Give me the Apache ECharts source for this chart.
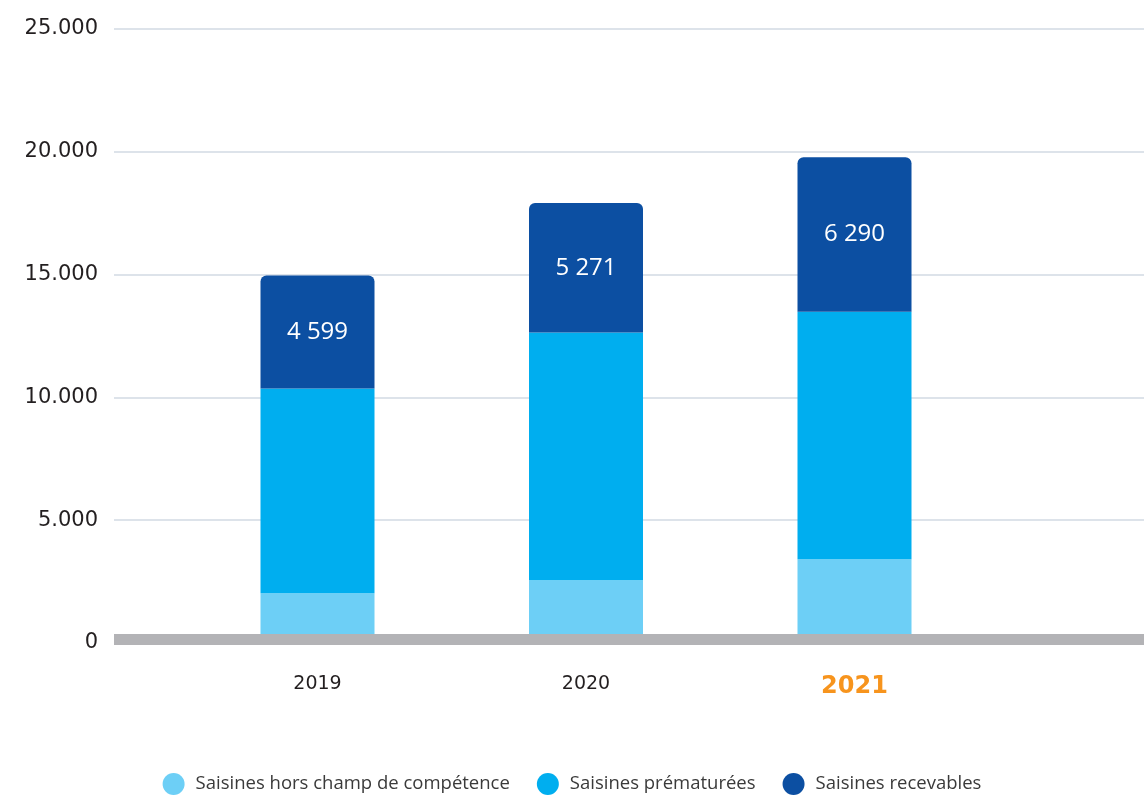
<!DOCTYPE html>
<html>
<head>
<meta charset="utf-8">
<style>
  html, body { margin: 0; padding: 0; background: #ffffff; }
  #chart { width: 1144px; height: 795px; }
</style>
<script src="https://cdn.jsdelivr.net/npm/echarts@6/dist/echarts.min.js"></script>
</head>
<body>
<div id="chart"></div>
<script>
// Saisines par année
const years = ['2019', '2020', '2021'];
const horsChamp = [2030, 2560, 3410];      // Saisines hors champ de compétence
const prematurees = [8330, 10080, 10080];  // Saisines prématurées
const recevables = [4599, 5271, 6290];     // Saisines recevables
const seriesNames = ['Saisines hors champ de compétence', 'Saisines prématurées', 'Saisines recevables'];
const highlightYear = '2021';
const yMax = 25000;
const yStep = 5000;

const colors = ['#6dcff6', '#00aeef', '#0c4fa2'];
const spaced = n => String(n).replace(/\B(?=(\d{3})+(?!\d))/g, ' ');

const plotTop = 29;
const plotBottom = 152;

const chart = echarts.init(document.getElementById('chart'));
chart.setOption({
  animation: false,
  color: colors,
  grid: [
    // full-width frame: value gridlines and the baseline
    { left: 114, right: 0, top: plotTop, bottom: plotBottom, outerBoundsMode: 'none' },
    // bar area: one band per year
    { left: 183.25, right: 155.25, top: plotTop, bottom: plotBottom, outerBoundsMode: 'none' }
  ],
  legend: {
    data: seriesNames,
    left: 'center',
    top: 768,
    icon: 'circle',
    itemWidth: 22,
    itemHeight: 22,
    itemGap: 27,
    textStyle: { fontFamily: 'Open Sans', fontSize: 18.5, color: '#3a3a3a', padding: [0, 0, 0, 6] }
  },
  xAxis: [
    {
      gridIndex: 0,
      type: 'value',
      min: 0,
      max: 1,
      z: 10,
      offset: -3.5,
      axisLine: { onZero: false, show: true, lineStyle: { color: '#b3b3b6', width: 11, cap: 'butt' } },
      axisTick: { show: false },
      splitLine: { show: false },
      axisLabel: { show: false }
    },
    {
      gridIndex: 1,
      type: 'category',
      data: years,
      axisLine: { show: false },
      axisTick: { show: false },
      axisLabel: {
        margin: 32,
        formatter: y => y === highlightYear ? '{hi|' + y + '}' : y,
        fontFamily: 'DejaVu Sans',
        fontSize: 19,
        color: '#231f20',
        rich: {
          hi: { fontFamily: 'DejaVu Sans', fontSize: 24, fontWeight: 'bold', color: '#f7941d' }
        }
      }
    }
  ],
  yAxis: [
    {
      gridIndex: 0,
      type: 'value',
      min: 0,
      max: yMax,
      interval: yStep,
      axisLine: { show: false },
      axisTick: { show: false },
      splitLine: { show: true, lineStyle: { color: '#dde3ea', width: 2 } },
      axisLabel: {
        margin: 16,
        fontFamily: 'DejaVu Sans',
        fontSize: 21,
        color: '#231f20',
        formatter: v => v === 0 ? '0' : (v / 1000) + '.000'
      }
    },
    {
      gridIndex: 1,
      type: 'value',
      min: 0,
      max: yMax,
      interval: yStep,
      show: false,
      splitLine: { show: false }
    }
  ],
  series: [
    {
      name: seriesNames[0], type: 'bar', stack: 'total', barWidth: 114,
      xAxisIndex: 1, yAxisIndex: 1,
      data: horsChamp
    },
    {
      name: seriesNames[1], type: 'bar', stack: 'total', barWidth: 114,
      xAxisIndex: 1, yAxisIndex: 1,
      data: prematurees
    },
    {
      name: seriesNames[2], type: 'bar', stack: 'total', barWidth: 114,
      xAxisIndex: 1, yAxisIndex: 1,
      itemStyle: { borderRadius: [6, 6, 0, 0] },
      label: {
        show: true,
        position: 'inside',
        color: '#ffffff',
        fontFamily: 'Open Sans',
        fontSize: 24,
        formatter: p => spaced(p.value)
      },
      data: recevables
    }
  ]
});
</script>
</body>
</html>
